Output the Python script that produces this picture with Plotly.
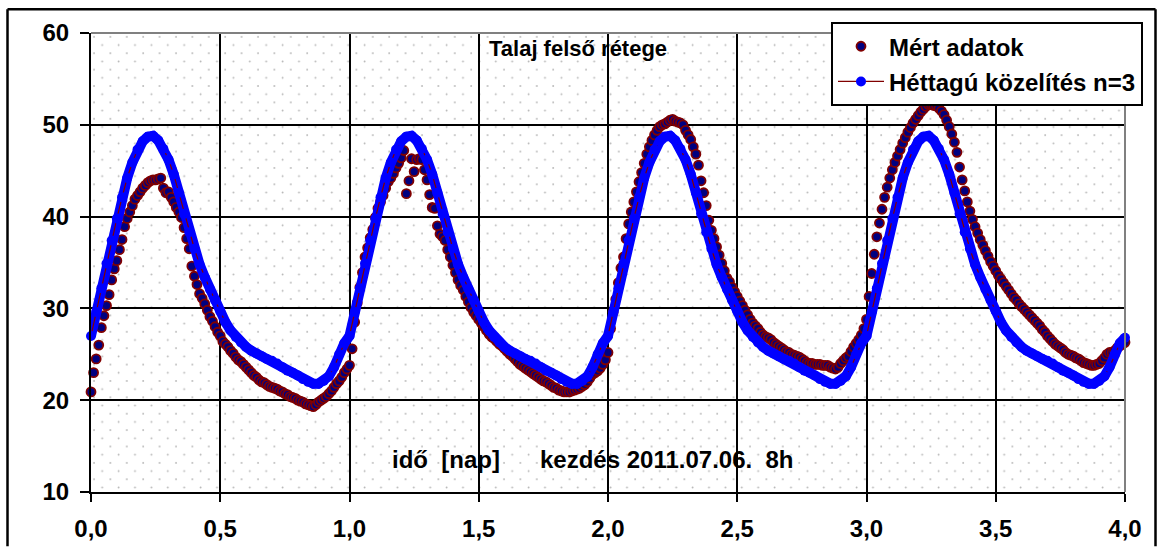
import base64
import plotly.graph_objects as go

# ---------------- data ----------------
# time axis [day], measured every 0.01 day, fit every 0.02 day
t_measured = [round(i * 0.01, 2) for i in range(401)]
t_fit = [round(i * 0.02, 2) for i in range(201)]

measured = [
    # day 1
    20.9, 23.0, 24.5, 26.0, 27.9, 29.2, 30.3, 31.5, 33.1, 34.3,
    35.2, 36.4, 37.5, 38.9, 39.8, 40.5, 41.2, 41.9, 42.3, 42.7,
    43.1, 43.4, 43.7, 43.9, 44.0, 44.0, 44.1, 44.2, 43.1, 42.6,
    42.7, 42.1, 41.6, 41.0, 40.5, 39.9, 38.8, 37.6, 36.5, 34.6,
    33.5, 32.6, 31.6, 31.1, 30.5, 29.8, 29.1, 28.6, 28.0, 27.4,
    27.0, 26.4, 26.1, 25.8, 25.4, 25.1, 24.7, 24.4, 24.2, 23.9,
    23.6, 23.3, 23.0, 22.7, 22.5, 22.2, 22.0, 21.9, 21.7, 21.5,
    21.4, 21.3, 21.2, 21.0, 20.9, 20.7, 20.6, 20.4, 20.3, 20.2,
    20.0, 19.9, 19.8, 19.6, 19.5, 19.4, 19.3, 19.5, 19.8, 20.0,
    20.2, 20.4, 20.7, 21.0, 21.4, 21.8, 22.1, 22.5, 23.0, 23.4,
    # day 2
    23.8, 25.6, 28.5, 30.6, 32.3, 33.9, 35.6, 36.6, 37.7, 38.6,
    39.9, 40.9, 41.6, 42.3, 43.1, 43.8, 44.2, 44.7, 45.3, 45.8,
    46.4, 47.2, 42.5, 43.9, 46.3, 44.9, 46.2, 46.3, 46.2, 45.1,
    44.0, 42.4, 41.0, 40.9, 39.0, 38.1, 37.8, 37.4, 36.4, 35.6,
    34.7, 33.9, 33.1, 32.5, 32.0, 31.3, 30.7, 30.1, 29.6, 29.2,
    28.8, 28.4, 28.0, 27.6, 27.2, 26.9, 26.7, 26.4, 26.1, 25.9,
    25.6, 25.3, 25.0, 24.8, 24.5, 24.2, 23.9, 23.7, 23.5, 23.3,
    23.1, 22.9, 22.7, 22.5, 22.3, 22.1, 22.0, 21.8, 21.6, 21.4,
    21.3, 21.1, 21.0, 20.9, 20.9, 20.9, 21.0, 21.1, 21.2, 21.3,
    21.5, 21.7, 22.0, 22.4, 22.8, 23.0, 23.2, 23.5, 23.9, 24.4,
    # day 3
    25.2, 27.8, 29.6, 31.0, 32.8, 34.4, 35.6, 37.6, 39.2, 40.5,
    41.6, 42.7, 43.8, 44.8, 45.8, 46.8, 47.6, 48.3, 48.9, 49.4,
    49.8, 50.0, 50.1, 50.3, 50.5, 50.6, 50.4, 50.3, 50.2, 50.0,
    49.4, 48.9, 48.4, 47.6, 46.8, 45.6, 43.9, 42.6, 41.2, 39.6,
    38.5, 37.6, 36.7, 35.8, 34.9, 34.1, 33.3, 32.9, 32.3, 31.8,
    31.3, 30.8, 30.3, 29.8, 29.3, 28.8, 28.4, 28.1, 27.8, 27.4,
    27.1, 26.9, 26.8, 26.6, 26.3, 26.1, 25.9, 25.7, 25.5, 25.3,
    25.2, 25.0, 24.9, 24.8, 24.7, 24.5, 24.3, 24.1, 24.0, 24.0,
    23.9, 23.9, 23.9, 23.8, 23.8, 23.8, 23.6, 23.5, 23.4, 23.6,
    24.0, 24.3, 24.6, 24.8, 25.3, 25.8, 26.2, 26.6, 27.1, 27.8,
    # day 4
    28.8, 31.3, 33.8, 35.9, 37.8, 39.3, 40.8, 42.1, 43.2, 44.2,
    45.1, 45.9, 46.6, 47.3, 48.0, 48.6, 49.2, 49.7, 50.2, 50.6,
    51.0, 51.4, 51.7, 52.0, 52.2, 52.2, 52.1, 52.1, 51.8, 51.5,
    51.1, 50.5, 49.8, 49.0, 48.1, 47.0, 45.4, 44.0, 42.8, 41.6,
    40.6, 39.7, 38.9, 38.2, 37.5, 36.9, 36.3, 35.7, 35.1, 34.6,
    34.1, 33.6, 33.2, 32.8, 32.4, 32.0, 31.6, 31.2, 30.9, 30.5,
    30.2, 29.9, 29.6, 29.3, 29.0, 28.7, 28.4, 28.1, 27.7, 27.4,
    27.0, 26.7, 26.4, 26.1, 25.9, 25.7, 25.5, 25.2, 25.0, 24.9,
    24.8, 24.6, 24.5, 24.3, 24.1, 24.0, 23.9, 23.8, 23.8, 23.9,
    24.0, 24.3, 24.6, 25.0, 25.2, 25.2, 25.4, 25.7, 25.9, 26.1,
    26.3,
]

fit = [
    # day 1
    27.0, 29.6, 32.2, 34.9, 37.4, 39.8, 42.1, 44.2, 45.9, 47.3,
    48.2, 48.7, 48.8, 48.3, 47.4, 46.2, 44.6, 42.6, 40.3, 38.3,
    36.5, 34.8, 33.4, 32.1, 30.9, 29.7, 28.5, 27.6, 26.9, 26.3,
    25.8, 25.4, 25.1, 24.8, 24.5, 24.3, 24.0, 23.6, 23.2, 23.0,
    22.7, 22.3, 22.0, 21.8, 21.8, 22.1, 22.6, 23.6, 25.0, 26.2,
    # day 2
    27.0, 29.6, 32.2, 34.9, 37.4, 39.8, 42.1, 44.2, 45.9, 47.3,
    48.2, 48.7, 48.8, 48.3, 47.4, 46.2, 44.6, 42.6, 40.3, 38.3,
    36.5, 34.8, 33.4, 32.1, 30.9, 29.7, 28.5, 27.6, 26.9, 26.3,
    25.8, 25.4, 25.1, 24.8, 24.5, 24.3, 24.0, 23.6, 23.2, 23.0,
    22.7, 22.3, 22.0, 21.8, 21.8, 22.1, 22.6, 23.6, 25.0, 26.2,
    # day 3
    27.0, 29.6, 32.2, 34.9, 37.4, 39.8, 42.1, 44.2, 45.9, 47.3,
    48.2, 48.7, 48.8, 48.3, 47.4, 46.2, 44.6, 42.6, 40.3, 38.3,
    36.5, 34.8, 33.4, 32.1, 30.9, 29.7, 28.5, 27.6, 26.9, 26.3,
    25.8, 25.4, 25.1, 24.8, 24.5, 24.3, 24.0, 23.6, 23.2, 23.0,
    22.7, 22.3, 22.0, 21.8, 21.8, 22.1, 22.6, 23.6, 25.0, 26.2,
    # day 4
    27.0, 29.6, 32.2, 34.9, 37.4, 39.8, 42.1, 44.2, 45.9, 47.3,
    48.2, 48.7, 48.8, 48.3, 47.4, 46.2, 44.6, 42.6, 40.3, 38.3,
    36.5, 34.8, 33.4, 32.1, 30.9, 29.7, 28.5, 27.6, 26.9, 26.3,
    25.8, 25.4, 25.1, 24.8, 24.5, 24.3, 24.0, 23.6, 23.2, 23.0,
    22.7, 22.3, 22.0, 21.8, 21.8, 22.1, 22.6, 23.6, 25.0, 26.2,
    26.8,
]

series_names = ["Mért adatok", "Héttagú közelítés n=3"]
title_text = "Talaj felső rétege"
xlabel_text = "idő  [nap]      kezdés 2011.07.06.  8h"
x_ticks = [0, 0.5, 1.0, 1.5, 2.0, 2.5, 3.0, 3.5, 4.0]
y_ticks = [10, 20, 30, 40, 50, 60]

# ---------------- styling ----------------
FONT = "Liberation Sans, Arial, sans-serif"
W, H = 1163, 554
L, R, T, B = 91, 38, 33, 56
PW, PH = W - L - R, H - T - B


def px_x(p):
    return (p - L) / PW


def px_y(p):
    return (H - B - p) / PH


# dotted background texture of the plot area (SVG pattern)
svg = (
    f'<svg xmlns="http://www.w3.org/2000/svg" width="{PW}" height="{PH}">'
    '<defs><pattern id="p" patternUnits="userSpaceOnUse" width="16.4" height="16.6">'
    '<circle cx="3" cy="4" r="0.95" fill="#b8b8b8"/>'
    '<circle cx="11.2" cy="12.3" r="0.95" fill="#b8b8b8"/>'
    '</pattern></defs>'
    f'<rect width="{PW}" height="{PH}" fill="url(#p)"/></svg>'
)
svg_uri = "data:image/svg+xml;base64," + base64.b64encode(svg.encode()).decode()

fig = go.Figure()

# measured data
fig.add_trace(go.Scatter(
    x=t_measured, y=measured, mode="markers", name=series_names[0],
    legendgroup="a",
    marker=dict(size=9, color="#000080", line=dict(color="#800000", width=1.8)),
    cliponaxis=False,
))

# continuous blue band under the fit markers
fig.add_trace(go.Scatter(
    x=t_fit, y=fit, mode="lines", showlegend=False, hoverinfo="skip",
    line=dict(color="#0000FF", width=10), cliponaxis=False,
))

# fit
fig.add_trace(go.Scatter(
    x=t_fit, y=fit, mode="lines+markers", name=series_names[1],
    legendgroup="b",
    line=dict(color="#800000", width=1.2),
    marker=dict(size=10, color="#0000FF", line=dict(width=0)),
    cliponaxis=False,
))

axis_font = dict(family=FONT, size=24, color="black", weight="bold")

fig.update_xaxes(
    range=[0, 4], tickmode="array", tickvals=x_ticks, tickformat=".1f",
    showgrid=True, gridcolor="black", gridwidth=1.5,
    showline=True, linecolor="black", linewidth=2,
    ticks="outside", ticklen=8, tickwidth=1.5, tickcolor="black",
    zeroline=False, tickfont=axis_font, ticklabelstandoff=6,
)
fig.update_yaxes(
    range=[10, 60], tickmode="array", tickvals=y_ticks,
    showgrid=True, gridcolor="black", gridwidth=1.5,
    showline=True, linecolor="black", linewidth=2,
    ticks="outside", ticklen=9, tickwidth=1.5, tickcolor="black",
    zeroline=False, tickfont=axis_font, ticklabelstandoff=6,
)

frame = dict(color="black", width=2.5)
fig.update_layout(
    width=W, height=H,
    margin=dict(l=L, r=R, t=T, b=B, pad=0),
    paper_bgcolor="white", plot_bgcolor="rgba(0,0,0,0)",
    separators=", ",
    font=dict(family=FONT, size=22, color="black"),
    showlegend=True,
    legend=dict(
        x=px_x(831), y=px_y(22), xanchor="left", yanchor="top",
        bgcolor="white", bordercolor="black", borderwidth=2,
        font=dict(family=FONT, size=24, color="black", weight="bold"),
        tracegroupgap=1, traceorder="grouped", itemwidth=46,
    ),
    images=[
        dict(source=svg_uri, xref="paper", yref="paper", x=0, y=1,
             sizex=1, sizey=1, sizing="stretch", layer="below",
             xanchor="left", yanchor="top"),
    ],
    shapes=[
        # grey top and right frame of plot area
        dict(type="line", xref="paper", yref="paper", x0=0, x1=1, y0=1, y1=1,
             line=dict(color="#808080", width=2), layer="above"),
        dict(type="line", xref="paper", yref="paper", x0=1, x1=1, y0=0, y1=1,
             line=dict(color="#808080", width=2), layer="above"),
        # outer chart border (left, top, right)
        dict(type="line", xref="paper", yref="paper",
             x0=px_x(7.5), x1=px_x(7.5), y0=px_y(553), y1=px_y(9),
             line=frame, layer="above"),
        dict(type="line", xref="paper", yref="paper",
             x0=px_x(7.5), x1=px_x(1155.5), y0=px_y(9), y1=px_y(9),
             line=frame, layer="above"),
        dict(type="line", xref="paper", yref="paper",
             x0=px_x(1155.5), x1=px_x(1155.5), y0=px_y(553), y1=px_y(9),
             line=frame, layer="above"),
    ],
    annotations=[
        dict(text=title_text, xref="paper", yref="paper",
             x=px_x(578), y=px_y(49), showarrow=False,
             xanchor="center", yanchor="middle",
             font=dict(family=FONT, size=22, color="black", weight="bold")),
        dict(text=xlabel_text.replace(" ", "\u00a0"), xref="paper", yref="paper",
             x=px_x(390), y=px_y(465), showarrow=False,
             xanchor="left", yanchor="middle",
             font=dict(family=FONT, size=24, color="black", weight="bold")),
    ],
)

fig.write_html("out.html")
